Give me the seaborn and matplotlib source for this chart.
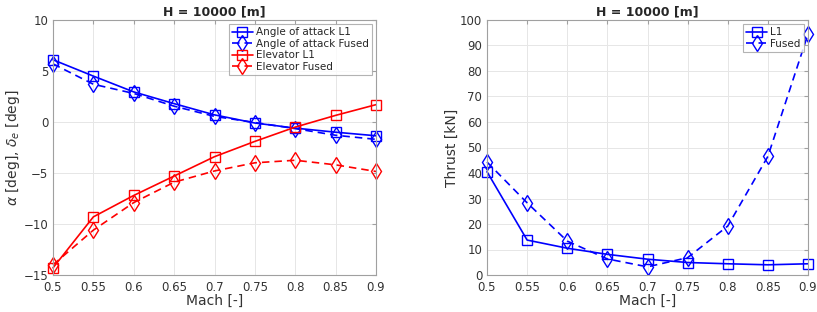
import numpy as np
import pandas as pd
import matplotlib
matplotlib.use("Agg")
import matplotlib.pyplot as plt
import seaborn as sns

mach = [0.5, 0.55, 0.6, 0.65, 0.7, 0.75, 0.8, 0.85, 0.9]
aoa_l1 = [6.1, 4.5, 2.95, 1.8, 0.7, -0.1, -0.6, -1.0, -1.35]
aoa_fused = [5.7, 3.7, 2.8, 1.55, 0.55, -0.05, -0.65, -1.3, -1.7]
elev_l1 = [-14.3, -9.3, -7.2, -5.3, -3.4, -1.9, -0.5, 0.65, 1.7]
elev_fused = [-14.0, -10.6, -7.9, -5.9, -4.8, -4.0, -3.75, -4.2, -4.85]
thrust_l1 = [40.5, 13.7, 10.5, 8.1, 6.2, 4.9, 4.4, 4.0, 4.4]
thrust_fused = [44.3, 28.3, 13.3, 6.3, 3.2, 6.8, 19.2, 46.5, 94.5]
tick_labels = ['0.5', '0.55', '0.6', '0.65', '0.7', '0.75', '0.8', '0.85', '0.9']

sns.set_style("white")
plt.rcParams['font.family'] = ['DejaVu Sans']

fig = plt.figure(figsize=(8.17, 3.12), dpi=100)
ax1 = fig.add_axes([53/817, 37/312, (376-53)/817, 255/312])
ax2 = fig.add_axes([487/817, 37/312, (808-487)/817, 255/312])

def style(ax):
    for s in ax.spines.values():
        s.set_color('#a0a0a0')
        s.set_linewidth(0.8)
    ax.grid(True, color='#e6e6e6', linewidth=0.7)
    ax.set_axisbelow(True)
    ax.tick_params(direction='in', length=3, color='#a0a0a0', labelsize=8.5,
                   labelcolor='#333333', top=True, right=True, pad=3.5)
    ax.tick_params(axis='x', pad=4.2)
    ax.set_title('H = 10000 [m]', fontsize=9, fontweight='bold', pad=3)
    ax.set_xlabel('Mach [-]', fontsize=10, color='#333333', labelpad=0)

def draw(ax, y, color, ls, marker, label):
    df = pd.DataFrame({'Mach': mach, 'val': y})
    kw = {}
    if ls == '--':
        kw['dashes'] = (4.5, 3)
    sns.lineplot(data=df, x='Mach', y='val', ax=ax, color=color,
                 marker=marker, markersize=6.5 if marker == 's' else 8.5,
                 markerfacecolor='none', markeredgecolor=color, markeredgewidth=1.0,
                 linewidth=1.2, label=label, **kw)

draw(ax1, aoa_l1, 'blue', '-', 's', 'Angle of attack L1')
draw(ax1, aoa_fused, 'blue', '--', 'd', 'Angle of attack Fused')
draw(ax1, elev_l1, 'red', '-', 's', 'Elevator L1')
draw(ax1, elev_fused, 'red', '--', 'd', 'Elevator Fused')

draw(ax2, thrust_l1, 'blue', '-', 's', 'L1')
draw(ax2, thrust_fused, 'blue', '--', 'd', 'Fused')

ax1.set_xlim(0.5, 0.9)
ax1.set_ylim(-15, 10)
ax1.set_xticks(mach)
ax1.set_xticklabels(tick_labels)
ax1.set_yticks([-15, -10, -5, 0, 5, 10])
ax1.set_ylabel(r'$\alpha$ [deg], $\delta_e$ [deg]', fontsize=10, color='#333333', labelpad=1)

ax2.set_xlim(0.5, 0.9)
ax2.set_ylim(0, 100)
ax2.set_xticks(mach)
ax2.set_xticklabels(tick_labels)
ax2.set_yticks(range(0, 101, 10))
ax2.set_ylabel('Thrust [kN]', fontsize=10, color='#333333', labelpad=1)

style(ax1)
style(ax2)

for ax in (ax1, ax2):
    leg = ax.legend(loc='upper right', fontsize=7.5, frameon=True, fancybox=False,
                    edgecolor='#a0a0a0', borderpad=0.3, labelspacing=0.15,
                    handlelength=2.0, handletextpad=0.3, borderaxespad=0.4)
    leg.get_frame().set_linewidth(0.8)

for ax in (ax1, ax2):
    for ln in ax.get_lines():
        ln.set_clip_on(False)

fig.savefig('out.png', dpi=100)
